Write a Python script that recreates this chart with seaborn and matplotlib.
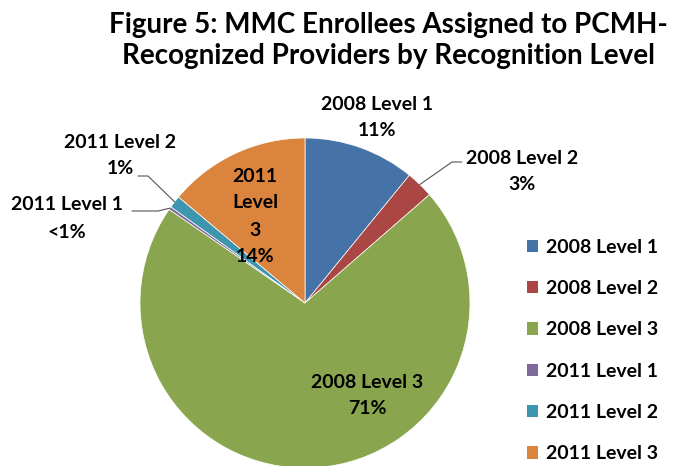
import numpy as np
import matplotlib
matplotlib.use("Agg")
import matplotlib.pyplot as plt
import seaborn as sns

# data
categories = ['2008 Level 1', '2008 Level 2', '2008 Level 3',
              '2011 Level 1', '2011 Level 2', '2011 Level 3']
shares = [10.9, 2.7, 71.0, 0.3, 1.2, 13.9]
pct_labels = ['11%', '3%', '71%', '<1%', '1%', '14%']
colors = ['#4572A7', '#AA4643', '#89A54E', '#80699B', '#3D96AE', '#DB843D']

sns.set_style("white")
plt.rcParams['font.family'] = ['Lato', 'DejaVu Sans']
plt.rcParams['font.weight'] = 'bold'
plt.rcParams['text.color'] = 'black'

W, H = 680, 466
fig = plt.figure(figsize=(W / 100, H / 100), dpi=100)
ax = fig.add_axes([0, 0, 1, 1])

cx, cy, r = 305, H - 303, 165
wedges, _ = ax.pie(shares, colors=colors, startangle=90, counterclock=False,
                   center=(cx, cy), radius=r, frame=True,
                   wedgeprops=dict(linewidth=0.5, edgecolor='white'))
ax.set_xlim(0, W)
ax.set_ylim(0, H)
ax.set_aspect('equal')
ax.axis('off')

fs = 14


def top(y):
    return H - y


def edge_point(i):
    w = wedges[i]
    ang = np.deg2rad((w.theta1 + w.theta2) / 2)
    return cx + r * np.cos(ang), cy + r * np.sin(ang)


# labels
ax.text(377, top(105), categories[0], ha='center', va='center', fontsize=fs)
ax.text(377, top(131), pct_labels[0], ha='center', va='center', fontsize=fs)

ax.text(522, top(158), categories[1], ha='center', va='center', fontsize=fs)
ax.text(522, top(185), pct_labels[1], ha='center', va='center', fontsize=fs)
ex, ey = edge_point(1)
ax.plot([ex, 452, 462], [ey, top(162), top(162)], color='#555555', lw=0.8)

ax.text(367, top(382), categories[2], ha='center', va='center', fontsize=fs)
ax.text(367, top(409), pct_labels[2], ha='center', va='center', fontsize=fs)

ax.text(67, top(205), categories[3], ha='center', va='center', fontsize=fs)
ax.text(67, top(232), pct_labels[3], ha='center', va='center', fontsize=fs)
ex, ey = edge_point(3)
ax.plot([132, 158, ex], [top(211), top(211), ey], color='#555555', lw=0.8)

ax.text(120, top(142), categories[4], ha='center', va='center', fontsize=fs)
ax.text(120, top(169), pct_labels[4], ha='center', va='center', fontsize=fs)
ex, ey = edge_point(4)
ax.plot([138, 148, ex], [top(176), top(176), ey], color='#555555', lw=0.8)

for k, s in enumerate(['2011', 'Level', '3', pct_labels[5]]):
    ax.text(255, top(176 + 27 * k), s, ha='center', va='center', fontsize=fs)

# title
ax.text(388, top(25), 'Figure 5: MMC Enrollees Assigned to PCMH-',
        ha='center', va='center', fontsize=20)
ax.text(388, top(56), 'Recognized Providers by Recognition Level',
        ha='center', va='center', fontsize=20)

# legend
handles = [plt.Rectangle((0, 0), 1, 1, facecolor=c, edgecolor='none') for c in colors]
leg = ax.legend(handles, categories, loc='upper left',
                bbox_to_anchor=(517 / W, 1 - 229 / H), frameon=False,
                fontsize=fs, handlelength=0.6, handleheight=0.6,
                handletextpad=0.4, labelspacing=1.25, borderpad=0)

fig.savefig('out.png', dpi=100)
